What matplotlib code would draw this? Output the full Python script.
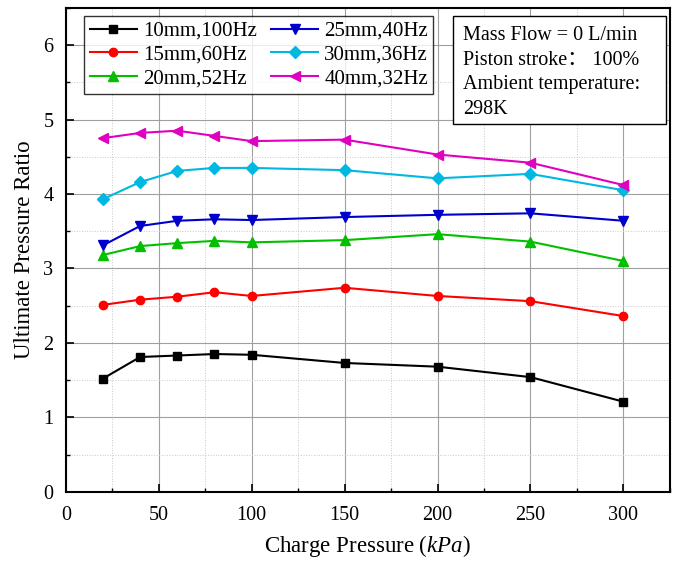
import matplotlib
matplotlib.use("Agg")
import matplotlib.pyplot as plt
from matplotlib.ticker import MultipleLocator
from matplotlib.patches import Rectangle

plt.rcParams['font.family'] = ['Liberation Serif', 'DejaVu Serif']
plt.rcParams['mathtext.fontset'] = 'custom'
plt.rcParams['mathtext.it'] = 'Liberation Serif:italic'
plt.rcParams['mathtext.rm'] = 'Liberation Serif'

pressure = [20, 40, 60, 80, 100, 150, 200, 250, 300]
labels = ["10mm,100Hz", "15mm,60Hz", "20mm,52Hz", "25mm,40Hz", "30mm,36Hz", "40mm,32Hz"]
s10 = [1.52, 1.81, 1.83, 1.85, 1.84, 1.73, 1.68, 1.54, 1.21]
s15 = [2.51, 2.58, 2.62, 2.68, 2.63, 2.74, 2.63, 2.56, 2.36]
s20 = [3.18, 3.30, 3.34, 3.37, 3.35, 3.38, 3.46, 3.36, 3.10]
s25 = [3.31, 3.57, 3.64, 3.66, 3.65, 3.69, 3.72, 3.74, 3.64]
s30 = [3.93, 4.16, 4.31, 4.35, 4.35, 4.32, 4.21, 4.27, 4.05]
s40 = [4.75, 4.82, 4.85, 4.78, 4.71, 4.73, 4.53, 4.42, 4.12]
series = [s10, s15, s20, s25, s30, s40]
colors = ['black', '#ff0000', '#00c000', '#0000cc', '#00b8e0', '#e000c0']
markers = ['s', 'o', '^', 'v', 'D', '<']
msizes = [6, 6, 7, 7, 6, 7]

fig = plt.figure(figsize=(6.78, 5.62), dpi=100)
ax = fig.add_axes([0.097, 0.125, 0.891, 0.861])

for ys, c, m, lab, ms in zip(series, colors, markers, labels, msizes):
    ax.plot(pressure, ys, color=c, marker=m, markersize=ms, linewidth=1.5, label=lab)

ax.set_xlim(0, 325)
ax.set_ylim(0, 6.5)
ax.xaxis.set_major_locator(MultipleLocator(50))
ax.xaxis.set_minor_locator(MultipleLocator(25))
ax.yaxis.set_major_locator(MultipleLocator(1))
ax.yaxis.set_minor_locator(MultipleLocator(0.5))
ax.grid(which='major', color='#a0a0a0', linewidth=0.8)
ax.grid(which='minor', color='#c8c8c8', linewidth=0.7, linestyle=':')
ax.set_axisbelow(True)
ax.tick_params(which='both', direction='in', labelsize=14.5)
ax.tick_params(axis='x', which='major', pad=10)
ax.tick_params(axis='y', which='major', pad=9)
ax.tick_params(which='major', length=6, width=1.2)
ax.tick_params(which='minor', length=3, width=1)
for sp in ax.spines.values():
    sp.set_linewidth(1.5)

ax.set_xlabel("Charge Pressure ($\\mathit{kPa}$)", fontsize=16.5, labelpad=6)
ax.set_ylabel("Ultimate Pressure Ratio", fontsize=16.5, labelpad=6)

leg = ax.legend(ncol=2, loc='upper left', bbox_to_anchor=(0.031, 0.983), borderaxespad=0,
                fontsize=15, frameon=True, fancybox=False, edgecolor='black',
                handlelength=2.25, columnspacing=0.7, borderpad=0.25,
                labelspacing=0.2, handletextpad=0.3)
leg.get_frame().set_linewidth(1.0)

ax.add_patch(Rectangle((0.641, 0.760), 0.352, 0.223, transform=ax.transAxes,
                       facecolor='white', edgecolor='black', linewidth=1.0, zorder=5))
ax.text(0.657, 0.962, "Mass Flow = 0 L/min\nPiston stroke\uff1a 100%\nAmbient temperature:\n298K",
        transform=ax.transAxes, ha='left', va='top', fontsize=14.5, linespacing=1.4,
        family=['Liberation Serif', 'Noto Sans CJK SC'], zorder=6)

fig.savefig("out.png", dpi=100)
